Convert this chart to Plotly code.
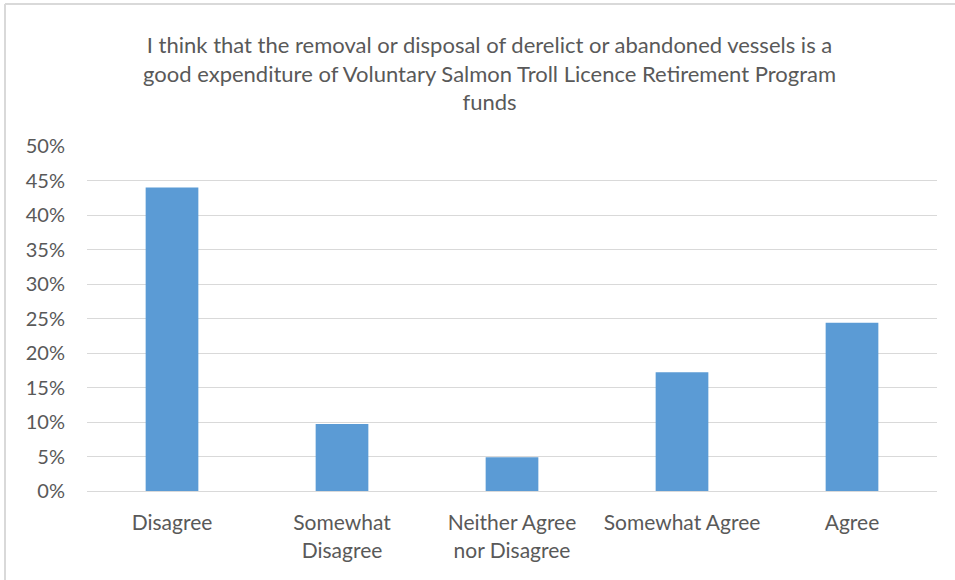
import plotly.graph_objects as go

categories = ["Disagree", "Somewhat<br>Disagree", "Neither Agree<br>nor Disagree", "Somewhat Agree", "Agree"]
values = [0.440, 0.097, 0.049, 0.172, 0.244]
y_ticks = [0, 0.05, 0.10, 0.15, 0.20, 0.25, 0.30, 0.35, 0.40, 0.45, 0.50]
title_text = ("I think that the removal or disposal of derelict or abandoned vessels is a<br>"
              "good expenditure of Voluntary Salmon Troll Licence Retirement Program<br>funds")

FONT = "Lato, 'Open Sans', sans-serif"
GREY = "#595959"
W, H = 955, 580
L, R, T, B = 87, 18, 146, 89
PW, PH = W - L - R, H - T - B

fig = go.Figure(go.Bar(x=categories, y=values, marker=dict(color="#5B9BD5", line=dict(width=0))))

fig.update_layout(
    width=W, height=H,
    margin=dict(l=L, r=R, t=T, b=B),
    paper_bgcolor="white", plot_bgcolor="white",
    bargap=0.69,
    showlegend=False,
    font=dict(family=FONT, color=GREY, size=20),
    title=dict(text=title_text, x=0.5126, xref="container", xanchor="center",
               y=1 - 53 / H, yref="container", yanchor="top",
               font=dict(family=FONT, size=22, color=GREY)),
    xaxis=dict(showgrid=False, showline=True, linecolor="#D9D9D9", linewidth=1,
               ticks="outside", ticklen=13, tickcolor="rgba(0,0,0,0)",
               tickfont=dict(size=21, color=GREY)),
    yaxis=dict(range=[0, 0.5], tickvals=y_ticks, tickformat=".0%",
               showgrid=True, gridcolor="#D9D9D9", gridwidth=1,
               zeroline=False, showline=False,
               ticks="outside", ticklen=17, tickcolor="rgba(0,0,0,0)",
               tickfont=dict(size=20, color=GREY)),
    shapes=[
        dict(type="line", xref="paper", yref="paper",
             x0=(5 - L) / PW, x1=(W - L) / PW, y0=(H - B - 4) / PH, y1=(H - B - 4) / PH,
             line=dict(color="#D9D9D9", width=2)),
        dict(type="line", xref="paper", yref="paper",
             x0=(5 - L) / PW, x1=(5 - L) / PW, y0=(H - B - 4) / PH, y1=(H - B - H) / PH,
             line=dict(color="#D9D9D9", width=2)),
    ],
)

fig.write_html("out.html", config={"displayModeBar": False},
               post_script="document.body.style.margin='0';")
